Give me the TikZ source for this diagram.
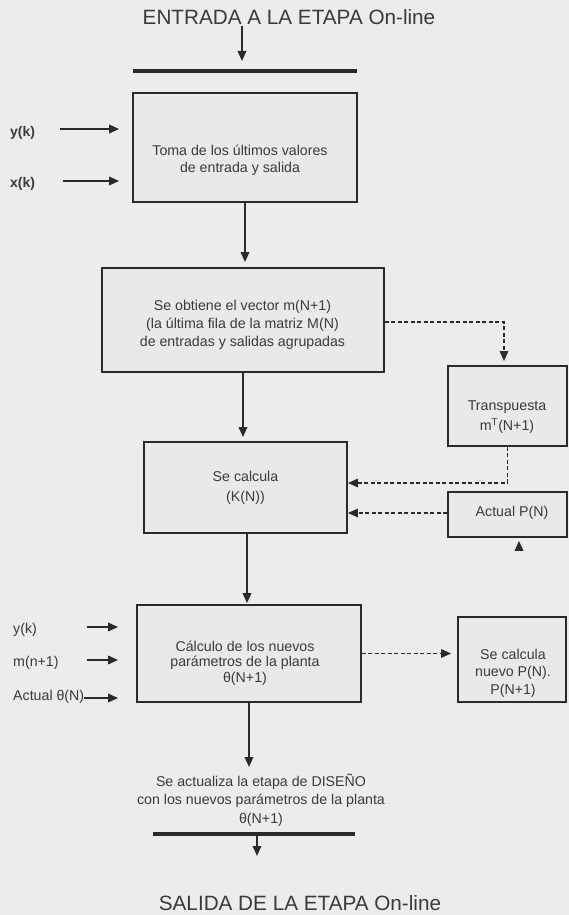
\documentclass[tikz,border=0pt]{standalone}
\usepackage{fontspec}
\setmainfont{Liberation Sans}
\usetikzlibrary{arrows.meta,calc}
\definecolor{bgc}{RGB}{236,236,236}
\definecolor{boxc}{RGB}{231,234,231}
\definecolor{linec}{RGB}{42,42,42}
\definecolor{txtc}{RGB}{58,58,58}
\begin{document}
\begin{tikzpicture}[x=1pt,y=-1pt,
  box/.style={draw=linec, fill=boxc, line width=1.8pt, inner sep=0pt},
  txt/.style={text=txtc, align=center, font=\fontsize{14.2}{17}\selectfont, inner sep=0pt},
  lbl/.style={text=txtc, anchor=west, font=\fontsize{14.2}{17}\selectfont, inner sep=0pt},
  ttl/.style={text=txtc, font=\fontsize{20.7}{24}\selectfont, inner sep=0pt},
  arr/.style={draw=linec, line width=1.8pt, -{Triangle[length=10pt,width=8.5pt]}},
  darr/.style={draw=linec, line width=1.5pt, dash pattern=on 4pt off 2.5pt, -{Triangle[length=10pt,width=8.5pt]}},
  bar/.style={draw=linec, line width=4pt}]
\fill[bgc] (0,0) rectangle (569,915);
\useasboundingbox (0,0) rectangle (569,915);

% titles
\node[ttl] (tin) at (289,17) {ENTRADA A LA ETAPA On-line};
\node[ttl] (tout) at (300,903) {SALIDA DE LA ETAPA On-line};

% top entry arrow and bar
\coordinate (inA) at (242,26);
\coordinate (inB) at (242,61);
\draw[arr] (inA) -- (inB);
\coordinate (bar1w) at (133,71);
\coordinate (bar1e) at (357,71);
\draw[bar] (bar1w) -- (bar1e);

% boxes
\node[box, minimum width=224pt, minimum height=109pt] (b1) at (245,147.5) {};
\node[box, minimum width=282pt, minimum height=104pt] (b2) at (243,320) {};
\node[box, minimum width=119pt, minimum height=80pt] (tr) at (507.5,406) {};
\node[box, minimum width=203pt, minimum height=91pt] (b3) at (245.5,487.5) {};
\node[box, minimum width=119pt, minimum height=45pt] (ap) at (507.5,514.5) {};
\node[box, minimum width=224pt, minimum height=97pt] (b4) at (249,653.5) {};
\node[box, minimum width=108pt, minimum height=85pt] (np) at (512,659.5) {};

% box texts
\node[txt] (t1) at (240,160) {Toma de los últimos valores\\de entrada y salida};
\node[txt, font=\fontsize{14.2}{18}\selectfont] (t2) at (242.5,325) {Se obtiene el vector m(N+1)\\(la última fila de la matriz M(N)\\de entradas y salidas agrupadas};
\node[txt, font=\fontsize{14.2}{20}\selectfont] (ttr) at (507,417) {Transpuesta\\m\textsuperscript{T}(N+1)};
\node[txt, font=\fontsize{14.2}{20}\selectfont] (t3) at (245.5,488) {Se calcula\\(K(N))};
\node[txt] (tap) at (512,513) {Actual P(N)};
\node[txt, font=\fontsize{14.2}{15.5}\selectfont] (t4) at (245,663) {Cálculo de los nuevos\\parámetros de la planta\\θ(N+1)};
\node[txt, font=\fontsize{14.2}{17.5}\selectfont] (tnp) at (513,673) {Se calcula\\nuevo P(N).\\P(N+1)};

% exit text
\node[txt, font=\fontsize{14.2}{18.5}\selectfont] (ex) at (261,800) {Se actualiza la etapa de DISEÑO\\con los nuevos parámetros de la planta\\θ(N+1)};

% left inputs, top box
\node[lbl, font=\bfseries\fontsize{14}{17}\selectfont] (yk1) at (10,133) {y(k)};
\node[lbl, font=\bfseries\fontsize{14}{17}\selectfont] (xk1) at (10,184) {x(k)};
\coordinate (yk1s) at (60,129);
\coordinate (xk1s) at (63,181);
\draw[arr, shorten >=13pt] (yk1s) -- (yk1s -| b1.west);
\draw[arr, shorten >=13pt] (xk1s) -- (xk1s -| b1.west);

% left inputs, lower box
\node[lbl] (yk2) at (13,630) {y(k)};
\node[lbl] (mn) at (13,663) {m(n+1)};
\node[lbl] (th) at (13,697) {Actual θ(N)};
\coordinate (yk2s) at (87,627);
\coordinate (mns) at (87,660);
\draw[arr, shorten >=18pt] (yk2s) -- (yk2s -| b4.west);
\draw[arr, shorten >=18pt] (mns) -- (mns -| b4.west);
\draw[arr, shorten >=18pt] ($(th.east)+(0,1)$) -- ($(th.east -| b4.west)+(0,1)$);

% main vertical flow
\draw[arr, shorten >=5pt] (b1.south) -- (b1.south |- b2.north);
\draw[arr, shorten >=4pt] (b2.south) -- (b2.south |- b3.north);
\draw[arr, shorten >=1pt] ($(b3.south)+(1.5,0)$) -- ($(b3.south |- b4.north)+(1.5,0)$);
\coordinate (exin) at (249,767);
\draw[arr] (b4.south) -- (exin);

% bottom bar and exit arrow
\coordinate (bar2w) at (153,834);
\coordinate (bar2e) at (355,834);
\draw[bar] (bar2w) -- (bar2e);
\coordinate (outA) at (257,836);
\coordinate (outB) at (257,856);
\draw[arr] (outA) -- (outB);

% dashed connections
\draw[darr, shorten >=4pt] ($(b2.east)+(0,2)$) -| ($(tr.north)+(-3.5,0)$);
\draw[darr] (tr.south) |- ($(b3.east)+(0,-4.5)$);
\draw[darr] ($(ap.west)+(0,-1.5)$) -- ($(ap.west -| b3.east)+(0,-1.5)$);
\draw[darr, shorten >=6pt] (b4.east) -- (b4.east -| np.west);

% small arrow under Actual P(N)
\coordinate (apin) at (519,550.5);
\draw[arr, shorten >=3pt] (apin) -- (apin |- ap.south);
\end{tikzpicture}
\end{document}
